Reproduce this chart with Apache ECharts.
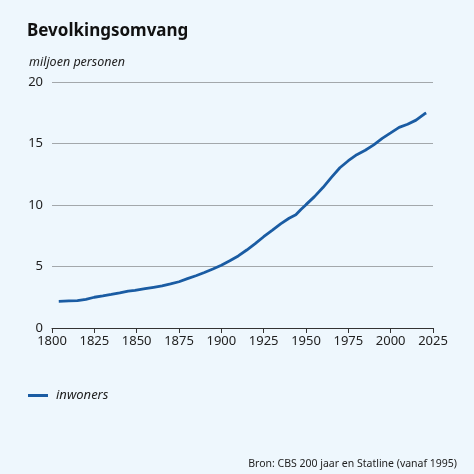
<!DOCTYPE html>
<html><head><meta charset="utf-8">
<script src="https://cdn.jsdelivr.net/npm/echarts@6/dist/echarts.min.js"></script>
<style>html,body{margin:0;padding:0;background:#EEF7FD;}#c{width:474px;height:474px;}</style>
</head><body><div id="c"></div>
<script>
const years = [1804,1810,1815,1820,1825,1830,1835,1840,1845,1849,1855,1860,1865,1870,1875,1880,1885,1890,1895,1900,1905,1910,1915,1920,1925,1930,1935,1940,1944,1947,1950,1955,1960,1965,1970,1975,1980,1985,1990,1995,2000,2005,2010,2015,2020,2021];
const inwoners = [2.17,2.20,2.22,2.33,2.50,2.61,2.73,2.86,3.00,3.06,3.20,3.31,3.42,3.58,3.76,4.01,4.25,4.51,4.80,5.10,5.47,5.86,6.34,6.86,7.42,7.94,8.47,8.92,9.20,9.63,10.03,10.68,11.42,12.25,13.03,13.60,14.09,14.45,14.89,15.42,15.86,16.31,16.57,16.90,17.41,17.48];
const xTicks = [1800,1825,1850,1875,1900,1925,1950,1975,2000,2025];
const yTicks = [0,5,10,15,20];
const title = 'Bevolkingsomvang';
const unit = 'miljoen personen';
const seriesName = 'inwoners';
const source = 'Bron: CBS 200 jaar en Statline (vanaf 1995)';

const FONT = 'Noto Sans';
const chart = echarts.init(document.getElementById('c'), null, {renderer:'canvas'});
chart.setOption({
  backgroundColor: '#EEF7FD',
  animation: false,
  textStyle: {fontFamily: FONT},
  title: [
    {text: title, left: 22, top: 18, padding: 5, textStyle: {fontSize: 17, fontWeight: 'bold', color: '#111', fontFamily: FONT}},
    {text: unit, left: 24, top: 51, textStyle: {fontSize: 12.5, fontStyle: 'italic', fontWeight: 'normal', color: '#222', fontFamily: FONT}},
    {text: source, right: 12, top: 454, textStyle: {fontSize: 10.5, fontWeight: 'normal', color: '#222', fontFamily: FONT}}
  ],
  legend: {
    left: 23, top: 384, itemWidth: 20, itemHeight: 3, itemGap: 10,
    icon: 'rect',
    data: [seriesName],
    textStyle: {fontSize: 13, fontStyle: 'italic', color: '#222', fontFamily: FONT, padding: [0,0,0,3]}
  },
  grid: {left: 52, right: 41, top: 82, bottom: 146, containLabel: false},
  xAxis: {
    type: 'value', min: 1800, max: 2025, interval: 25,
    axisLine: {show: true, lineStyle: {color: '#333', width: 1}},
    axisTick: {show: true, length: 5, inside: false, lineStyle: {color: '#333'}},
    axisLabel: {fontSize: 13, color: '#222', margin: 7, formatter: v => xTicks.includes(v) ? String(v) : ''},
    splitLine: {show: false}
  },
  yAxis: {
    type: 'value', min: 0, max: 20, interval: 5,
    axisLine: {show: false}, axisTick: {show: false},
    axisLabel: {fontSize: 13, color: '#222', margin: 9, formatter: v => yTicks.includes(v) ? String(v) : ''},
    splitLine: {show: true, lineStyle: {color: '#A3A8AB', width: 1}}
  },
  series: [{
    name: seriesName, type: 'line', showSymbol: false, symbol: 'none',
    data: years.map((y, i) => [y, inwoners[i]]),
    lineStyle: {color: '#1A5CA3', width: 2.8},
    itemStyle: {color: '#1A5CA3'}
  }]
});
</script></body></html>
